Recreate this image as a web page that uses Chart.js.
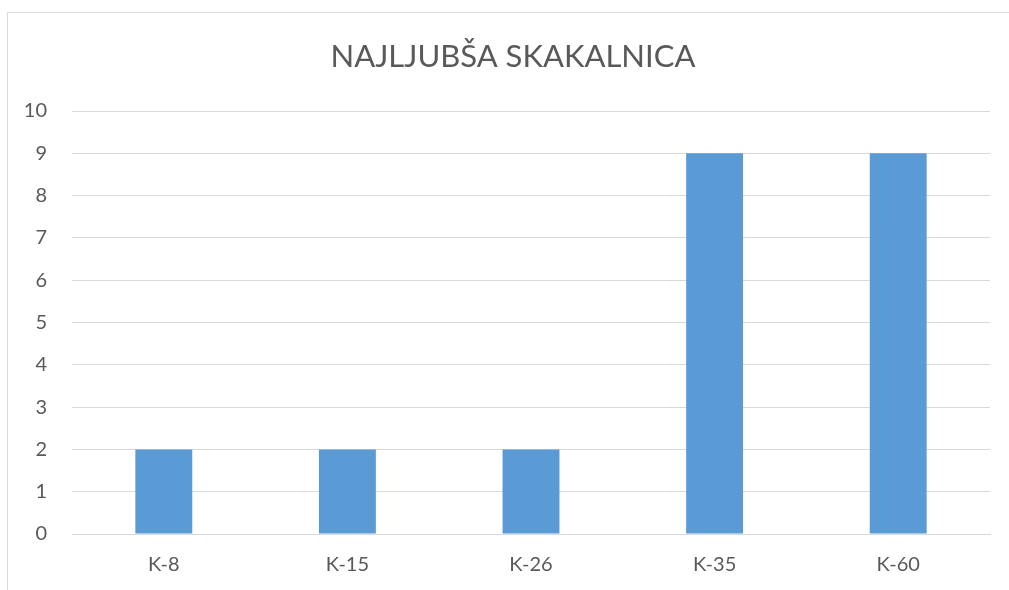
<!DOCTYPE html>
<html>
<head>
<meta charset="utf-8">
<script src="https://cdn.jsdelivr.net/npm/chart.js@4/dist/chart.umd.min.js"></script>
<style>
  body { margin: 0; background: #fff; overflow: hidden; }
  .frame {
    position: absolute; left: 7px; top: 12px;
    width: 1100px; height: 700px;
    border: 1px solid #d9d9d9; box-sizing: border-box;
  }
  .chart-size { position: absolute; left: 0; top: 0; width: 1009px; height: 590px; }
</style>
</head>
<body>
<div class="frame"></div>
<div class="chart-size"><canvas id="c"></canvas></div>
<script>
const categories = ['K-8', 'K-15', 'K-26', 'K-35', 'K-60'];
const votes = [2, 2, 2, 9, 9];
const titleText = 'NAJLJUBŠA SKAKALNICA';

const textColor = '#595959';
const gridColor = '#d9d9d9';
const fontFamily = 'Lato, "Open Sans", sans-serif';

// nudge the title box so its centre sits where the original has it
const titleShift = {
  id: 'titleShift',
  afterLayout(chart) {
    if (chart.titleBlock) chart.titleBlock.left = 36;
  }
};

const ctx = document.getElementById('c').getContext('2d');
new Chart(ctx, {
  type: 'bar',
  data: {
    labels: categories,
    datasets: [{
      data: votes,
      backgroundColor: '#5b9bd5',
      categoryPercentage: 1,
      barPercentage: 0.31
    }]
  },
  options: {
    responsive: true,
    maintainAspectRatio: false,
    animation: false,
    layout: { padding: { left: 0, right: 19, top: 0, bottom: 0 } },
    plugins: {
      legend: { display: false },
      tooltip: { enabled: false },
      title: {
        display: true,
        text: titleText,
        color: textColor,
        font: { family: fontFamily, size: 31, weight: 'normal', lineHeight: 1.2 },
        padding: { top: 38, bottom: 35.8 }
      }
    },
    scales: {
      x: {
        grid: { display: false, drawTicks: false },
        border: { display: true, color: gridColor, width: 1 },
        ticks: { color: textColor, font: { family: fontFamily, size: 20 }, padding: 19 },
        afterFit(scale) { scale.height = 56; }
      },
      y: {
        min: 0,
        max: 10,
        grid: { color: gridColor, drawTicks: false },
        border: { display: false },
        ticks: { stepSize: 1, color: textColor, font: { family: fontFamily, size: 20 }, padding: 25 },
        afterFit(scale) { scale.width = 72; }
      }
    }
  },
  plugins: [titleShift]
});
</script>
</body>
</html>
